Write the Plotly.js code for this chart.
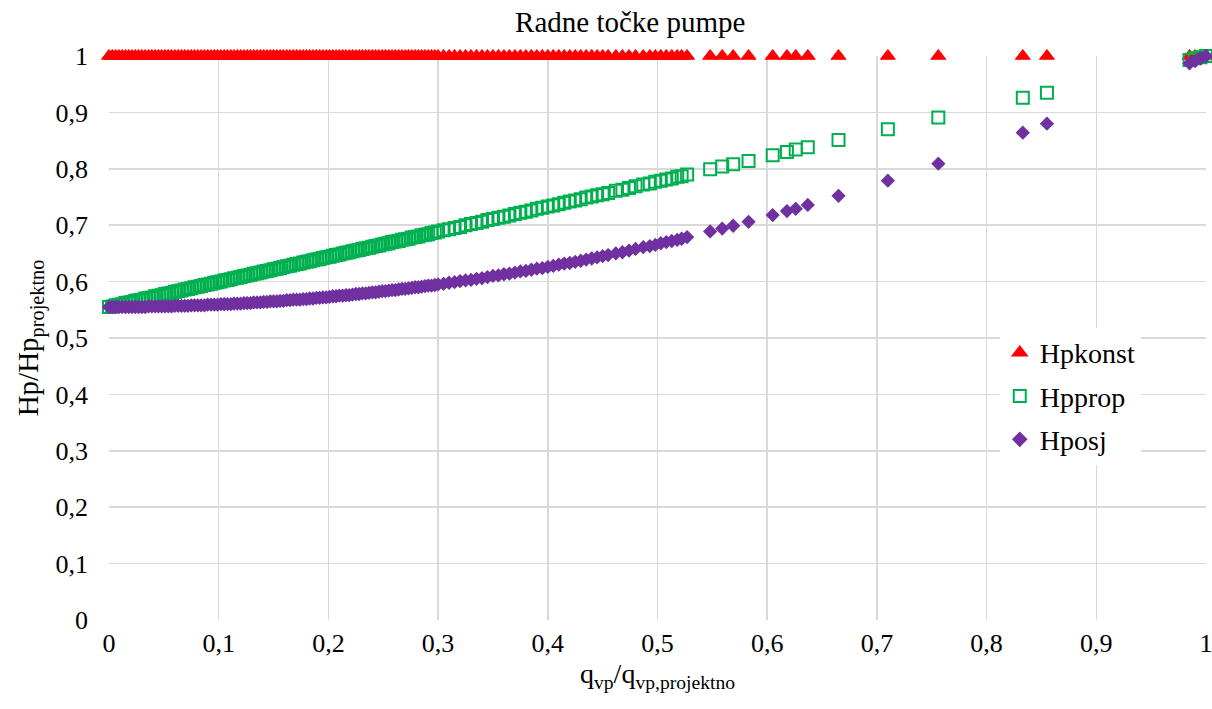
<!DOCTYPE html>
<html>
<head>
<meta charset="utf-8">
<script src="https://cdn.plot.ly/plotly-3.0.1.min.js"></script>
<style>html,body{margin:0;padding:0;background:#fff;}#chart{width:1212px;height:709px;}</style>
</head>
<body>
<div id="chart"></div>
<script>
// Relative pump flow q_vp / q_vp,projektno
const q = [
0,0.003,0.006,0.009,0.012,0.015,0.018,0.021,0.024,0.027,
0.03,0.033,0.036,0.039,0.042,0.045,0.048,0.051,0.054,0.057,
0.06,0.063,0.066,0.069,0.072,0.075,0.078,0.081,0.084,0.087,
0.09,0.093,0.096,0.099,0.102,0.105,0.108,0.111,0.114,0.117,
0.12,0.123,0.126,0.129,0.132,0.135,0.138,0.141,0.144,0.147,
0.15,0.153,0.156,0.159,0.162,0.165,0.168,0.171,0.174,0.177,
0.18,0.183,0.186,0.189,0.192,0.195,0.198,0.201,0.204,0.207,
0.21,0.213,0.216,0.219,0.222,0.225,0.228,0.231,0.234,0.237,
0.24,0.243,0.246,0.249,0.252,0.255,0.258,0.261,0.264,0.267,
0.27,0.273,0.276,0.279,0.282,0.285,0.288,0.291,0.294,0.297,
0.3,
0.305,0.31,0.315,0.32,0.325,0.33,0.335,0.34,0.345,0.35,
0.355,0.36,0.365,0.37,0.375,0.38,0.385,0.39,0.395,0.4,
0.405,0.41,0.415,0.42,0.425,0.43,0.435,0.44,0.445,0.45,
0.455,0.462,0.468,0.474,0.48,0.487,0.493,0.498,0.503,0.508,0.513,0.518,0.522,0.527,
0.548,0.559,0.569,0.583,0.605,0.618,0.626,0.637,0.665,0.71,0.756,0.833,0.855,
0.985,0.99,0.995,1.0
];

// Hpkonst: constant head
const hpKonst = [
1,1,1,1,1,1,1,1,1,1,
1,1,1,1,1,1,1,1,1,1,
1,1,1,1,1,1,1,1,1,1,
1,1,1,1,1,1,1,1,1,1,
1,1,1,1,1,1,1,1,1,1,
1,1,1,1,1,1,1,1,1,1,
1,1,1,1,1,1,1,1,1,1,
1,1,1,1,1,1,1,1,1,1,
1,1,1,1,1,1,1,1,1,1,
1,1,1,1,1,1,1,1,1,1,
1,
1,1,1,1,1,1,1,1,1,1,
1,1,1,1,1,1,1,1,1,1,
1,1,1,1,1,1,1,1,1,1,
1,1,1,1,1,1,1,1,1,1,1,1,1,1,
1,1,1,1,1,1,1,1,1,1,1,1,1,
1,1,1,1
];

// Hpprop: proportional head
const hpProp = [
0.555,0.556,0.558,0.559,0.560,0.562,0.563,0.564,0.566,0.567,
0.568,0.570,0.571,0.572,0.574,0.575,0.576,0.578,0.579,0.580,
0.582,0.583,0.584,0.586,0.587,0.588,0.590,0.591,0.592,0.594,
0.595,0.596,0.598,0.599,0.600,0.602,0.603,0.604,0.606,0.607,
0.608,0.610,0.611,0.612,0.614,0.615,0.616,0.618,0.619,0.620,
0.622,0.623,0.624,0.626,0.627,0.628,0.630,0.631,0.632,0.634,
0.635,0.636,0.638,0.639,0.640,0.642,0.643,0.644,0.646,0.647,
0.648,0.650,0.651,0.652,0.654,0.655,0.656,0.658,0.659,0.660,
0.662,0.663,0.664,0.666,0.667,0.668,0.670,0.671,0.672,0.674,
0.675,0.676,0.678,0.679,0.680,0.682,0.683,0.684,0.686,0.687,
0.689,
0.691,0.693,0.695,0.697,0.700,0.702,0.704,0.706,0.709,0.711,
0.713,0.715,0.717,0.720,0.722,0.724,0.726,0.729,0.731,0.733,
0.735,0.737,0.740,0.742,0.744,0.746,0.749,0.751,0.753,0.755,
0.757,0.761,0.763,0.766,0.769,0.772,0.774,0.777,0.779,0.781,0.783,0.786,0.787,0.790,
0.799,0.804,0.808,0.814,0.824,0.830,0.834,0.838,0.851,0.870,0.891,0.926,0.935,
0.993,0.996,0.998,1.000
];

// Hposj: head along the system curve
const hpOsj = [
0.555,0.555,0.555,0.555,0.555,0.555,0.555,0.555,0.555,0.555,
0.555,0.555,0.556,0.556,0.556,0.556,0.556,0.556,0.556,0.556,
0.557,0.557,0.557,0.557,0.557,0.558,0.558,0.558,0.558,0.558,
0.559,0.559,0.559,0.559,0.560,0.560,0.560,0.560,0.561,0.561,
0.561,0.562,0.562,0.562,0.563,0.563,0.563,0.564,0.564,0.565,
0.565,0.565,0.566,0.566,0.567,0.567,0.568,0.568,0.568,0.569,
0.569,0.570,0.570,0.571,0.571,0.572,0.572,0.573,0.574,0.574,
0.575,0.575,0.576,0.576,0.577,0.578,0.578,0.579,0.579,0.580,
0.581,0.581,0.582,0.583,0.583,0.584,0.585,0.585,0.586,0.587,
0.587,0.588,0.589,0.590,0.590,0.591,0.592,0.593,0.593,0.594,
0.595,
0.596,0.598,0.599,0.601,0.602,0.603,0.605,0.606,0.608,0.610,
0.611,0.613,0.614,0.616,0.618,0.619,0.621,0.623,0.624,0.626,
0.628,0.630,0.632,0.633,0.635,0.637,0.639,0.641,0.643,0.645,
0.647,0.650,0.652,0.655,0.658,0.661,0.663,0.665,0.668,0.670,0.672,0.674,0.676,0.679,
0.689,0.694,0.699,0.706,0.718,0.725,0.729,0.736,0.752,0.779,0.809,0.864,0.880,
0.987,0.991,0.996,1.000
];

const seriesNames = ['Hpkonst', 'Hpprop', 'Hposj'];
const titleText = 'Radne točke pumpe';
const xTitle = 'q<sub>vp</sub>/q<sub>vp,projektno</sub>';
const yTitle = 'Hp/Hp<sub>projektno</sub>';

const FONT = 'Liberation Serif';

const traces = [
  {x: q, y: hpKonst, name: seriesNames[0], type: 'scatter', mode: 'markers', cliponaxis: false,
   legendgroup: 'a',
   marker: {symbol: 'triangle-up', size: 13, color: '#FF0000', line: {color: '#FF0000', width: 1}}},
  {x: q, y: hpProp, name: seriesNames[1], type: 'scatter', mode: 'markers', cliponaxis: false,
   legendgroup: 'b',
   marker: {symbol: 'square-open', size: 12, color: '#00B050', line: {color: '#00B050', width: 2}}},
  {x: q, y: hpOsj, name: seriesNames[2], type: 'scatter', mode: 'markers', cliponaxis: false,
   legendgroup: 'c',
   marker: {symbol: 'diamond', size: 11, color: '#7030A0', line: {width: 0}}}
];

const axisCommon = {
  range: [0, 1], tick0: 0, dtick: 0.1, showgrid: true, gridcolor: '#d9d9d9', gridwidth: 1.5,
  zeroline: false, showline: false, ticks: '', tickfont: {family: FONT, size: 26, color: '#000'},
  ticklabeloverflow: 'allow', fixedrange: true
};

const layout = {
  width: 1212, height: 709,
  margin: {l: 109, r: 6, t: 56, b: 89, pad: 0},
  paper_bgcolor: '#fff', plot_bgcolor: '#fff',
  separators: ', ',
  font: {family: FONT, size: 26, color: '#000'},
  title: {text: titleText, font: {family: FONT, size: 29, color: '#000'},
          x: 0.52, xref: 'container', xanchor: 'center', y: 0.969, yref: 'container', yanchor: 'middle'},
  xaxis: Object.assign({}, axisCommon, {
    ticklabelstandoff: 5,
    title: {text: xTitle, font: {family: FONT, size: 28, color: '#000'}, standoff: 5}
  }),
  yaxis: Object.assign({}, axisCommon, {
    ticklabelstandoff: 20,
    title: {text: yTitle, font: {family: FONT, size: 29, color: '#000'}, standoff: 8}
  }),
  showlegend: true,
  legend: {x: 0.812, xanchor: 'left', y: 0.518, yanchor: 'top', bgcolor: '#fff',
           font: {family: FONT, size: 28, color: '#000'}, tracegroupgap: 4,
           itemsizing: 'constant'}
};

Plotly.newPlot('chart', traces, layout, {displayModeBar: false, staticPlot: true});
</script>
</body>
</html>
